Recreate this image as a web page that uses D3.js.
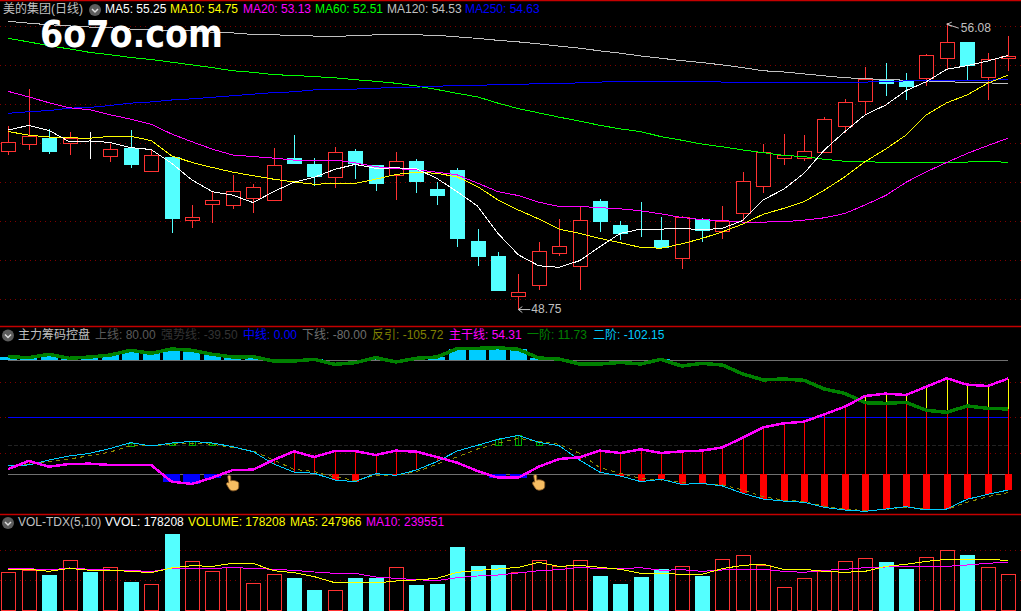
<!DOCTYPE html>
<html>
<head>
<meta charset="utf-8">
<script src="https://cdn.jsdelivr.net/npm/d3@7"></script>
<style>
  html, body { margin: 0; background: #000; overflow: hidden; }
  svg { display: block; }
  text { font-family: "Liberation Sans", "Noto Sans CJK SC", sans-serif; font-size: 12px; dominant-baseline: middle; }
</style>
</head>
<body>
<div id="chart"></div>
<script>
/* Candles */
const opens = [52.81,52.99,53.14,52.99,53.10,52.66,52.87,52.30,52.65,51.02,51.44,51.41,51.60,51.53,52.62,52.47,52.14,52.80,52.44,52.19,52.55,51.83,52.32,50.49,50.11,49.07,49.35,50.17,49.86,51.52,50.91,50.92,50.52,50.04,51.07,50.76,51.22,51.91,52.61,52.61,52.78,53.43,54.07,54.65,54.62,54.66,55.19,55.60,54.71,55.17];
const closes = [53.03,53.19,52.80,53.13,53.10,52.85,52.47,52.70,51.09,51.10,51.54,51.77,51.87,52.44,52.48,52.16,52.77,52.50,51.99,52.54,52.03,51.67,50.57,50.11,49.24,49.18,50.23,50.36,51.03,51.01,50.70,50.91,50.34,51.10,50.78,51.02,52.03,52.78,52.69,52.79,53.62,54.05,54.64,54.56,54.47,55.26,55.59,55.01,55.17,55.23];
const highs = [53.44,54.39,53.37,53.29,53.29,52.98,53.34,52.83,52.65,51.42,51.76,52.19,51.95,52.87,53.21,52.62,52.90,52.85,52.44,52.77,52.60,52.01,52.37,50.80,50.21,49.65,50.47,51.05,51.37,51.57,51.01,51.50,51.10,51.14,51.08,51.39,52.26,52.98,53.24,53.21,53.67,54.13,54.96,55.06,54.80,55.29,56.08,55.60,55.32,55.75];
const lows = [52.70,52.84,52.73,52.70,52.60,52.53,52.37,52.27,50.71,50.84,50.96,51.32,51.22,51.53,52.48,51.91,51.86,52.08,51.78,51.55,51.73,51.42,50.35,49.85,49.24,48.75,49.24,50.11,49.25,50.73,50.52,50.60,50.30,49.78,50.47,50.55,51.02,51.73,52.44,52.55,52.78,53.26,53.73,54.21,54.11,54.48,54.88,54.62,54.11,54.85];

/* Price moving averages */
const ma5 = [53.34,53.46,53.33,53.04,53.06,53.02,52.89,52.84,52.49,52.06,51.76,51.67,51.48,51.76,52.00,52.13,52.33,52.46,52.36,52.37,52.35,52.10,51.76,51.39,50.69,50.14,49.86,49.82,49.99,50.35,50.69,50.80,50.80,50.82,50.78,50.82,51.02,51.55,51.82,52.23,52.83,53.30,53.73,53.98,54.35,54.58,54.90,54.99,55.11,55.25];
const ma10 = [53.30,53.21,53.16,53.14,53.13,53.18,53.18,53.07,52.68,52.51,52.38,52.26,52.17,52.08,52.01,51.95,51.97,51.97,52.08,52.20,52.26,52.23,52.14,51.89,51.55,51.29,51.06,50.80,50.69,50.56,50.45,50.33,50.31,50.42,50.56,50.73,50.93,51.18,51.33,51.50,51.80,52.14,52.53,52.85,53.21,53.73,54.04,54.24,54.54,54.75];
const ma20 = [54.33,54.19,54.04,53.91,53.86,53.73,53.62,53.49,53.24,53.04,52.85,52.70,52.66,52.62,52.57,52.55,52.57,52.50,52.40,52.35,52.32,52.26,52.19,51.98,51.76,51.66,51.49,51.38,51.38,51.35,51.32,51.27,51.19,51.10,51.04,51.02,50.98,50.98,50.99,51.03,51.09,51.20,51.42,51.66,52.00,52.27,52.51,52.74,52.94,53.13];
const ma60 = [55.69,55.60,55.50,55.42,55.33,55.27,55.20,55.15,55.08,55.01,54.94,54.86,54.82,54.76,54.74,54.71,54.68,54.63,54.59,54.54,54.47,54.38,54.28,54.19,54.03,53.89,53.78,53.67,53.57,53.46,53.37,53.30,53.17,53.08,52.98,52.91,52.83,52.76,52.69,52.66,52.59,52.54,52.53,52.51,52.51,52.51,52.51,52.52,52.54,52.51];
const ma120 = [56.13,56.08,56.04,56.01,55.98,55.96,55.93,55.91,55.90,55.88,55.85,55.83,55.79,55.78,55.77,55.75,55.74,55.76,55.78,55.79,55.78,55.77,55.73,55.69,55.64,55.60,55.55,55.49,55.44,55.37,55.31,55.24,55.18,55.12,55.07,55.01,54.94,54.86,54.83,54.78,54.73,54.68,54.66,54.63,54.62,54.60,54.58,54.56,54.55,54.53];
const ma250 = [53.77,53.81,53.84,53.90,53.92,53.97,54.03,54.06,54.11,54.14,54.18,54.22,54.26,54.30,54.32,54.37,54.38,54.39,54.41,54.44,54.44,54.46,54.49,54.49,54.50,54.51,54.53,54.53,54.55,54.57,54.59,54.59,54.59,54.59,54.59,54.57,54.56,54.56,54.55,54.55,54.55,54.55,54.57,54.58,54.60,54.60,54.60,54.62,54.62,54.63];

/* Indicator panel */
const mainLine = [-72.6,-61.3,-69.3,-65.5,-65.1,-66.9,-66.9,-66.9,-90.3,-93.6,-84.7,-74.0,-73.5,-59.9,-47.8,-55.7,-47.3,-47.3,-52.9,-46.8,-48.2,-55.7,-63.7,-75.4,-84.7,-84.7,-69.3,-58.5,-56.2,-46.8,-50.1,-45.0,-50.1,-47.8,-46.8,-42.2,-28.6,-14.1,-8.5,-6.1,4.2,14.9,29.9,33.2,31.3,43.0,54.7,45.8,43.9,54.31];
const firstOrder = [85.1,83.7,88.4,82.8,84.6,87.4,94.0,89.8,95.9,94.0,88.4,84.6,85.1,79.0,79.0,81.4,74.3,76.7,83.7,77.6,82.8,84.6,96.3,96.8,97.7,95.4,83.2,81.8,74.8,74.8,77.1,74.8,81.4,72.0,75.7,73.4,60.8,52.4,53.8,51.9,39.7,33.6,20.5,19.6,21.0,9.8,7.0,15.9,12.6,11.73];
const secondOrder = [-67.9,-66.9,-59.9,-54.3,-50.6,-43.6,-35.6,-40.3,-36.1,-33.7,-36.1,-41.2,-48.2,-65.5,-76.8,-78.6,-88.0,-90.3,-79.1,-81.4,-74.0,-62.3,-47.3,-39.3,-30.9,-25.3,-35.1,-39.8,-59.9,-77.2,-82.4,-90.3,-87.1,-94.1,-92.7,-96.4,-106.7,-114.7,-117.5,-119.3,-126.4,-130.1,-132.0,-128.7,-125.4,-130.1,-128.7,-115.1,-108.1,-102.15];
const rebound = [-67.9,-66.0,-62.3,-58.5,-53.8,-48.7,-39.8,-39.8,-37.9,-36.1,-37.9,-42.6,-47.3,-59.9,-73.0,-76.3,-83.8,-88.5,-81.4,-81.4,-76.3,-66.0,-55.7,-44.5,-36.5,-29.5,-33.7,-37.9,-50.6,-70.7,-78.6,-85.7,-88.0,-91.3,-93.6,-95.0,-102.0,-111.4,-116.1,-118.4,-124.5,-128.7,-131.0,-129.2,-125.9,-129.2,-129.2,-119.3,-111.4,-105.72];
const upperLevel = 80, strongLevel = -39.5, middleLevel = 0, lowerLevel = -80;
const handIndex = [11, 26];
const handValue = [-92, -91];

/* Volume panel */
const volume = [188300,198300,175000,248300,190000,213300,140000,128300,380000,243300,193300,213300,133300,178300,160000,100000,98300,160000,160000,213300,125000,130000,315000,220000,225000,188300,248300,218300,248300,170000,130000,165000,205000,218300,170000,253300,273300,223300,113300,158300,193300,243300,258300,240000,205000,263300,298300,275000,213300,178208];
const volMa5 = [200000,203300,193300,208300,198300,198300,193300,186700,210000,221700,218300,233300,233300,196700,186700,166700,136700,138300,135000,145000,150000,158300,188300,198300,205000,213300,238300,218300,223300,213300,203300,183300,183300,178300,178300,206700,223300,228300,203300,203300,193300,188300,193300,218300,228300,243300,253300,253300,253300,247966];
const volMa10 = [206700,206700,200000,210000,203300,200000,198300,191700,208300,208300,208300,211700,208300,203300,198300,190000,183300,183300,165000,158300,151700,146700,161700,170000,175000,185000,196700,201700,213300,206700,206700,211700,198300,201700,193300,200000,203300,203300,193300,188300,198300,203300,211700,215000,218300,218300,218300,225000,233300,239551];

/* Ticks of the dotted grid */
const priceTicks = [49, 50, 51, 52, 53, 54, 55, 56];
const indTicks = [-50, 0, 50];
const volTicks = [150000, 300000];

/* Header labels */
const priceLabels = ["MA5: 55.25", "MA10: 54.75", "MA20: 53.13", "MA60: 52.51", "MA120: 54.53", "MA250: 54.63"];
const priceLabelColors = ["#fff", "#ff0", "#f0f", "#0f0", "#c0c0c0", "#00f"];
const priceLabelX = [105, 170, 243, 315, 387, 465];
const indLabels = ["主力筹码控盘", "上线: 80.00", "强势线: -39.50", "中线: 0.00", "下线: -80.00", "反引: -105.72", "主干线: 54.31", "一阶: 11.73", "二阶: -102.15"];
const indLabelColors = ["#c0c0c0", "#5a5a5a", "#333", "#00f", "#6e6e6e", "#808000", "#f0f", "#008000", "#00ccff"];
const indLabelX = [18, 95, 161, 243, 302, 372, 449, 527, 593];
const volLabels = ["VOL-TDX(5,10)", "VVOL: 178208", "VOLUME: 178208", "MA5: 247966", "MA10: 239551"];
const volLabelColors = ["#c0c0c0", "#fff", "#ff0", "#ff0", "#f0f"];
const volLabelX = [18, 105, 188, 290, 366];

const width = 1021, height = 611;
const red = "#ff3232", cyan = "#54ffff", panelLine = "#c40000", gridRed = "#800000";
const bars = d3.range(opens.length);

const svg = d3.select("#chart").append("svg")
    .attr("width", width)
    .attr("height", height)
    .style("background", "#000");

// One x scale shared by the three panels
const x = d3.scalePoint().domain(bars).range([8.3, 1008]);
const yPrice = d3.scaleLinear().domain([49, 56]).range([299.3, 26.3]);
const yInd = d3.scaleLinear().domain([-80, 80]).range([474.3, 360.3]);
const yVol = d3.scaleLinear().domain([0, 300000]).range([610, 550]);

const px = v => Math.round(v) + 0.5;

// Panel separators
svg.selectAll(".sep").data([0.5, 326.5, 514.5]).join("line")
    .attr("x1", 0).attr("x2", width)
    .attr("y1", d => d).attr("y2", d => d)
    .attr("stroke", panelLine)
    .attr("stroke-width", 1.5);

// Dotted grid
function grid(ticks, scale) {
    svg.append("g").selectAll("line").data(ticks).join("line")
        .attr("x1", 0).attr("x2", width)
        .attr("y1", d => px(scale(d))).attr("y2", d => px(scale(d)))
        .attr("stroke", gridRed)
        .attr("stroke-dasharray", "1,4")
        .attr("shape-rendering", "crispEdges");
}
grid(priceTicks, yPrice);
grid(indTicks, yInd);
grid(volTicks, yVol);

// A thin line through one series
function drawLine(values, scale, color, w, dash) {
    svg.append("path")
        .datum(values)
        .attr("d", d3.line().x((d, i) => x(i)).y(d => scale(d)))
        .attr("fill", "none")
        .attr("stroke", color)
        .attr("stroke-width", w || 1)
        .attr("stroke-dasharray", dash || null)
        .attr("shape-rendering", "crispEdges");
}

// Candles
const candleColor = i => closes[i] > opens[i] ? red : closes[i] < opens[i] ? cyan : "#fff";
const candles = svg.append("g").attr("shape-rendering", "crispEdges");
candles.selectAll(".wick").data(bars).join("line")
    .attr("x1", i => px(x(i))).attr("x2", i => px(x(i)))
    .attr("y1", i => yPrice(highs[i])).attr("y2", i => yPrice(lows[i]))
    .attr("stroke", candleColor);
candles.selectAll(".body").data(bars).join("rect")
    .attr("x", i => px(x(i)) - 7)
    .attr("width", 14)
    .attr("y", i => px(yPrice(Math.max(opens[i], closes[i]))))
    .attr("height", i => Math.max(0, Math.round(Math.abs(yPrice(opens[i]) - yPrice(closes[i])))))
    .attr("fill", i => closes[i] > opens[i] ? "#000" : candleColor(i))
    .attr("stroke", candleColor);

// Moving averages sit over the candles
drawLine(ma120, yPrice, "#c0c0c0");
drawLine(ma60, yPrice, "#0f0");
drawLine(ma250, yPrice, "#00f");
drawLine(ma20, yPrice, "#f0f");
drawLine(ma10, yPrice, "#ff0");
drawLine(ma5, yPrice, "#fff");

// High and low marks
svg.append("path")
    .attr("d", `M${x(46)},${yPrice(56.08) + 1}l12,4M${x(46)},${yPrice(56.08) + 1}l5,-2M${x(46)},${yPrice(56.08) + 1}l5,2`)
    .attr("fill", "none").attr("stroke", "#c0c0c0");
svg.append("text").attr("x", x(46) + 14).attr("y", yPrice(56.08) + 6)
    .attr("fill", "#c0c0c0").text("56.08");
svg.append("path")
    .attr("d", `M${x(25)},${yPrice(48.75) + 0.5}h12M${x(25)},${yPrice(48.75) + 0.5}l4,-3M${x(25)},${yPrice(48.75) + 0.5}l4,3`)
    .attr("fill", "none").attr("stroke", "#c0c0c0");
svg.append("text").attr("x", x(25) + 13).attr("y", yPrice(48.75) + 0.5)
    .attr("fill", "#c0c0c0").text("48.75");

// Indicator panel: level lines
const levels = svg.append("g").attr("shape-rendering", "crispEdges");
levels.selectAll("line").data([upperLevel, strongLevel, middleLevel, lowerLevel]).join("line")
    .attr("x1", x(0)).attr("x2", x(49))
    .attr("y1", d => px(yInd(d))).attr("y2", d => px(yInd(d)))
    .attr("stroke", d => d === middleLevel ? "#00f" : d === strongLevel ? "#222" : "#707070")
    .attr("stroke-dasharray", d => d === strongLevel ? "4,2" : null);

const ind = svg.append("g").attr("shape-rendering", "crispEdges");
// Above the upper line
ind.selectAll(".strong").data(bars.filter(i => firstOrder[i] > upperLevel)).join("rect")
    .attr("x", i => x(i) - 8.5).attr("width", 17)
    .attr("y", i => yInd(firstOrder[i]))
    .attr("height", i => yInd(upperLevel) - yInd(firstOrder[i]))
    .attr("fill", "#00ccff");
// Below the lower line
ind.selectAll(".weak").data(bars.filter(i => mainLine[i] < lowerLevel)).join("rect")
    .attr("x", i => x(i) - 8.5).attr("width", 17)
    .attr("y", yInd(lowerLevel))
    .attr("height", i => yInd(mainLine[i]) - yInd(lowerLevel))
    .attr("fill", "#00f");
// Thin red lines between main line and second order
ind.selectAll(".stem").data(bars.filter(i => mainLine[i] > secondOrder[i])).join("line")
    .attr("x1", i => px(x(i))).attr("x2", i => px(x(i)))
    .attr("y1", i => yInd(mainLine[i]))
    .attr("y2", i => yInd(Math.max(secondOrder[i], lowerLevel)))
    .attr("stroke", "#f00");
ind.selectAll(".stemTop").data(bars.filter(i => mainLine[i] > firstOrder[i])).join("line")
    .attr("x1", i => px(x(i))).attr("x2", i => px(x(i)))
    .attr("y1", i => yInd(mainLine[i]))
    .attr("y2", i => yInd(firstOrder[i]))
    .attr("stroke", "#ff0");
ind.selectAll(".deep").data(bars.filter(i => secondOrder[i] < lowerLevel)).join("rect")
    .attr("x", i => px(x(i)) - 3.5).attr("width", 7)
    .attr("y", yInd(lowerLevel))
    .attr("height", i => yInd(secondOrder[i]) - yInd(lowerLevel))
    .attr("fill", "#f00");
// Hollow green boxes over the strong line
const boxes = bars.filter(i => secondOrder[i] > strongLevel);
ind.selectAll(".box").data(boxes).join("rect")
    .attr("x", i => px(x(i)) - 3).attr("width", 6)
    .attr("y", i => px(yInd(secondOrder[i])))
    .attr("height", i => yInd(strongLevel) - yInd(secondOrder[i]))
    .attr("fill", "none").attr("stroke", "#00b000");
ind.selectAll(".boxMid").data(boxes).join("line")
    .attr("x1", i => px(x(i))).attr("x2", i => px(x(i)))
    .attr("y1", i => yInd(secondOrder[i])).attr("y2", i => yInd(strongLevel))
    .attr("stroke", "#008000");

drawLine(rebound, yInd, "#8c8c00", 1, "4,4");
drawLine(secondOrder, yInd, "#00ccff");
drawLine(firstOrder, yInd, "#008000", 3.5);
drawLine(mainLine, yInd, "#f0f", 2.5);

// Hand markers
const hands = svg.append("g").selectAll("g").data(handIndex).join("g")
    .attr("transform", (d, i) => `translate(${x(d)},${yInd(handValue[i])})`);
hands.append("path")
    .attr("d", "M-5,-6 C-5,-8 -2,-8 -2,-6 L-2,-2 C0,-3 5,-2 6,0 L6,4 C6,7 3,8 0,8 C-3,8 -4,5 -6,2 C-7,0 -5,-1 -4,0 Z")
    .attr("fill", "#f6bd62")
    .attr("stroke", "#8a5a24")
    .attr("stroke-width", 0.8);

// Volume bars
const volColor = i => closes[i] > opens[i] ? red : cyan;
const vols = svg.append("g").attr("shape-rendering", "crispEdges");
vols.selectAll("rect").data(bars).join("rect")
    .attr("x", i => px(x(i)) - 7)
    .attr("width", 14)
    .attr("y", i => px(yVol(volume[i])))
    .attr("height", i => yVol(0) - px(yVol(volume[i])))
    .attr("fill", i => closes[i] > opens[i] ? "none" : cyan)
    .attr("stroke", volColor);
drawLine(volMa10, yVol, "#f0f");
drawLine(volMa5, yVol, "#ff0");

// Watermark
svg.append("text")
    .attr("x", 40).attr("y", 47)
    .attr("textLength", 183)
    .attr("lengthAdjust", "spacingAndGlyphs")
    .style("font-family", "'DejaVu Sans'")
    .style("font-size", "37px")
    .style("font-weight", "bold")
    .style("dominant-baseline", "auto")
    .attr("fill", "#fff")
    .text("6o7o.com");

// Labels
function labels(texts, colors, xs, y) {
    svg.append("g").selectAll("text").data(texts).join("text")
        .attr("x", (d, i) => xs[i])
        .attr("y", y)
        .attr("fill", (d, i) => colors[i])
        .text(d => d);
}
svg.append("text").attr("x", 3).attr("y", 10).attr("fill", "#c0c0c0").text("美的集团(日线)");
labels(priceLabels, priceLabelColors, priceLabelX, 10);
labels(indLabels, indLabelColors, indLabelX, 335.5);
labels(volLabels, volLabelColors, volLabelX, 523);

// Small round menu buttons
const buttons = svg.append("g").selectAll("g").data([[95, 10], [8, 335.5], [8, 523]]).join("g")
    .attr("transform", d => `translate(${d[0]},${d[1]})`);
buttons.append("circle").attr("r", 6).attr("fill", "#5c5c5c");
buttons.append("path").attr("d", "M-3,-1L0,2L3,-1").attr("fill", "none").attr("stroke", "#ddd").attr("stroke-width", 1.5);
</script>
</body>
</html>
